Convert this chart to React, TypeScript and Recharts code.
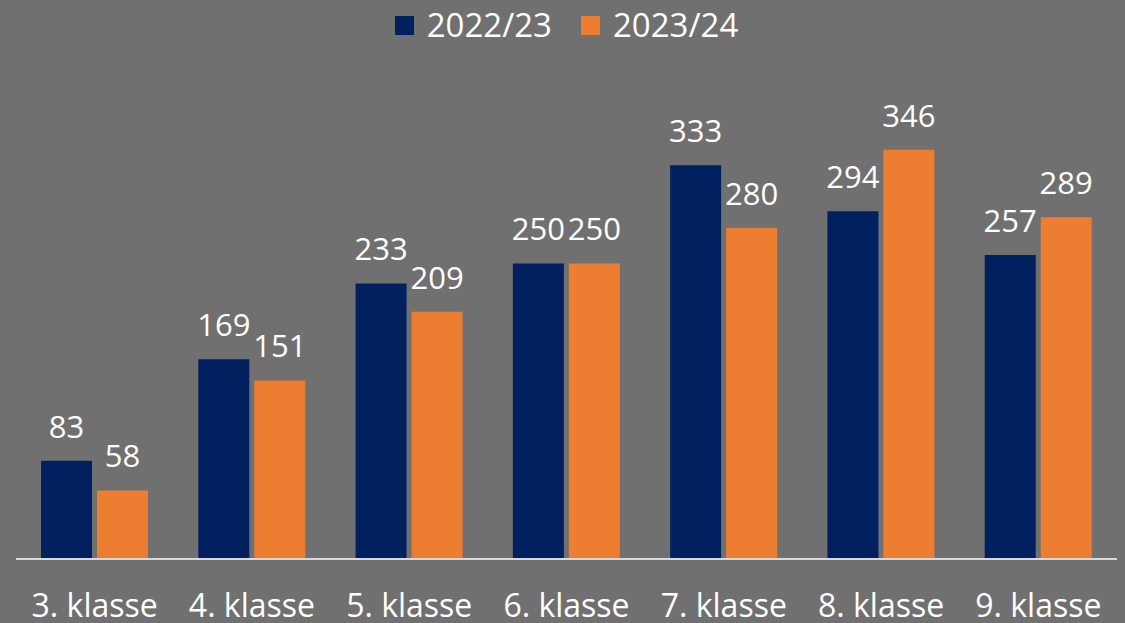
import React from 'react';
import { BarChart, Bar, XAxis, YAxis, Legend, LabelList } from 'recharts';

const categories = ['3. klasse', '4. klasse', '5. klasse', '6. klasse', '7. klasse', '8. klasse', '9. klasse'];
const values2223 = [83, 169, 233, 250, 333, 294, 257];
const values2324 = [58, 151, 209, 250, 280, 346, 289];

const NAVY = '#002060';
const ORANGE = '#ED7D31';
const FONT = '"Open Sans", sans-serif';

const data = categories.map((name, i) => ({
  name,
  y2223: values2223[i],
  y2324: values2324[i],
}));

const LegendContent = () => (
  <div style={{ display: 'flex', justifyContent: 'center', gap: 29, fontFamily: FONT, fontSize: 33, color: '#fff', lineHeight: '40px' }}>
    {[
      { label: '2022/23', color: NAVY },
      { label: '2023/24', color: ORANGE },
    ].map(item => (
      <div key={item.label} style={{ display: 'flex', alignItems: 'center', gap: 13 }}>
        <span style={{ width: 19, height: 19, background: item.color, display: 'inline-block' }} />
        <span>{item.label}</span>
      </div>
    ))}
  </div>
);

export default function App() {
  return (
    <div style={{ position: 'absolute', left: 0, top: 0, width: 1125, height: 623, background: '#707070' }}>
      <BarChart
        width={1125}
        height={623}
        data={data}
        margin={{ top: 46, right: 8, left: 16, bottom: 0 }}
        barCategoryGap={25}
        barGap={5}
      >
        <XAxis
          dataKey="name"
          axisLine={{ stroke: '#d9d9d9', strokeWidth: 2 }}
          tickLine={false}
          tickMargin={29}
          height={64}
          tick={{ fill: '#fff', fontSize: 32, fontFamily: FONT }}
          interval={0}
        />
        <YAxis hide domain={[0, 400]} />
        <Legend verticalAlign="top" content={<LegendContent />} wrapperStyle={{ top: 5 }} />
        <Bar dataKey="y2223" fill={NAVY} barSize={51} isAnimationActive={false}>
          <LabelList dataKey="y2223" position="top" offset={23} fill="#fff" fontSize={31} fontFamily={FONT} />
        </Bar>
        <Bar dataKey="y2324" fill={ORANGE} barSize={51} isAnimationActive={false}>
          <LabelList dataKey="y2324" position="top" offset={23} fill="#fff" fontSize={31} fontFamily={FONT} />
        </Bar>
      </BarChart>
    </div>
  );
}
